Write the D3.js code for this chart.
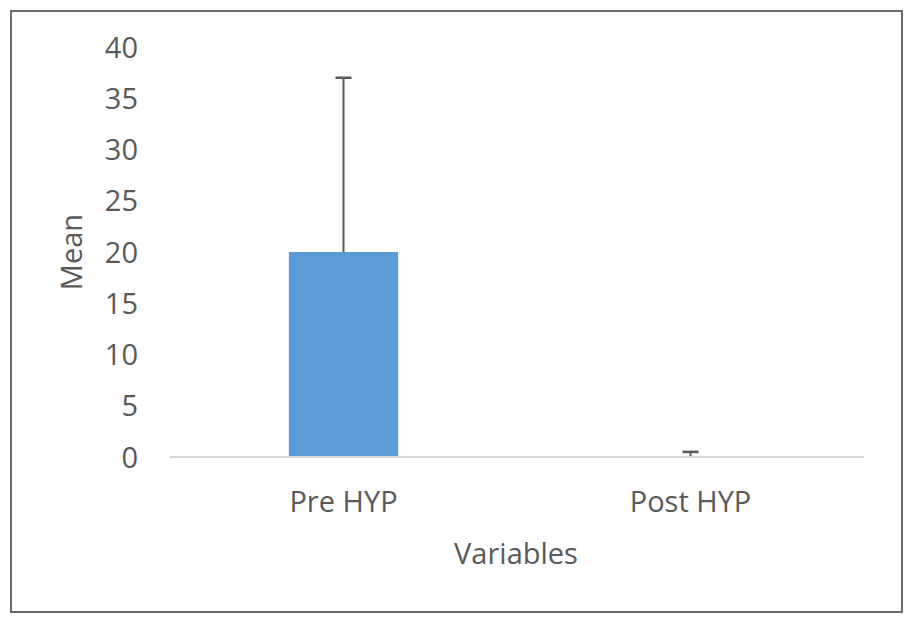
<!DOCTYPE html>
<html>
<head>
<meta charset="utf-8">
<script src="https://cdn.jsdelivr.net/npm/d3@7"></script>
<style>
  body { margin: 0; background: #fff; }
  svg text { font-family: "Open Sans", sans-serif; fill: #595959; }
</style>
</head>
<body>
<svg id="chart" width="914" height="625"></svg>
<script>
// data
const categories = ["Pre HYP", "Post HYP"];
const means = [20, 0.1];
const errors = [17, 0.4];
const yTicks = [0, 5, 10, 15, 20, 25, 30, 35, 40];

const svg = d3.select("#chart");

// outer frame
svg.append("rect")
    .attr("x", 11)
    .attr("y", 11)
    .attr("width", 891)
    .attr("height", 601)
    .attr("fill", "none")
    .attr("stroke", "#6b6b6b")
    .attr("stroke-width", 2);

const x = d3.scaleBand()
    .domain(categories)
    .range([170, 864])
    .paddingInner(0.685)
    .paddingOuter(0.3425);

const y = d3.scaleLinear()
    .domain([0, 40])
    .range([457, 47]);

// y axis labels (no axis line, no gridlines)
const yAxis = svg.append("g")
    .attr("transform", "translate(138,0)")
    .call(d3.axisLeft(y).tickValues(yTicks).tickSize(0).tickPadding(0));
yAxis.select(".domain").remove();
yAxis.selectAll("text")
    .style("font-size", "29px")
    .attr("fill", "#595959")
    .attr("dy", "0.35em");

// bars
svg.selectAll(".bar")
    .data(categories)
    .enter().append("rect")
    .attr("class", "bar")
    .attr("x", d => x(d))
    .attr("y", (d, i) => y(means[i]))
    .attr("width", x.bandwidth())
    .attr("height", (d, i) => y(0) - y(means[i]))
    .attr("fill", "#5b9bd5");

// x axis line
svg.append("line")
    .attr("x1", 170)
    .attr("x2", 864)
    .attr("y1", y(0))
    .attr("y2", y(0))
    .attr("stroke", "#d9d9d9")
    .attr("stroke-width", 2);

// error bars (plus side only)
const err = svg.selectAll(".err")
    .data(categories)
    .enter().append("g")
    .attr("class", "err");
err.append("line")
    .attr("x1", d => x(d) + x.bandwidth() / 2)
    .attr("x2", d => x(d) + x.bandwidth() / 2)
    .attr("y1", (d, i) => y(means[i]))
    .attr("y2", (d, i) => y(means[i] + errors[i]))
    .attr("stroke", "#595959")
    .attr("stroke-width", 2);
err.append("line")
    .attr("x1", d => x(d) + x.bandwidth() / 2 - 8)
    .attr("x2", d => x(d) + x.bandwidth() / 2 + 8)
    .attr("y1", (d, i) => y(means[i] + errors[i]))
    .attr("y2", (d, i) => y(means[i] + errors[i]))
    .attr("stroke", "#595959")
    .attr("stroke-width", 2.5);

// category labels
svg.selectAll(".cat")
    .data(categories)
    .enter().append("text")
    .attr("class", "cat")
    .attr("x", d => x(d) + x.bandwidth() / 2)
    .attr("y", 512)
    .attr("text-anchor", "middle")
    .style("font-size", "29px")
    .text(d => d);

// axis titles
svg.append("text")
    .attr("x", 516)
    .attr("y", 564)
    .attr("text-anchor", "middle")
    .style("font-size", "29px")
    .text("Variables");

svg.append("text")
    .attr("transform", "translate(82,252) rotate(-90)")
    .attr("text-anchor", "middle")
    .style("font-size", "29px")
    .text("Mean");
</script>
</body>
</html>
